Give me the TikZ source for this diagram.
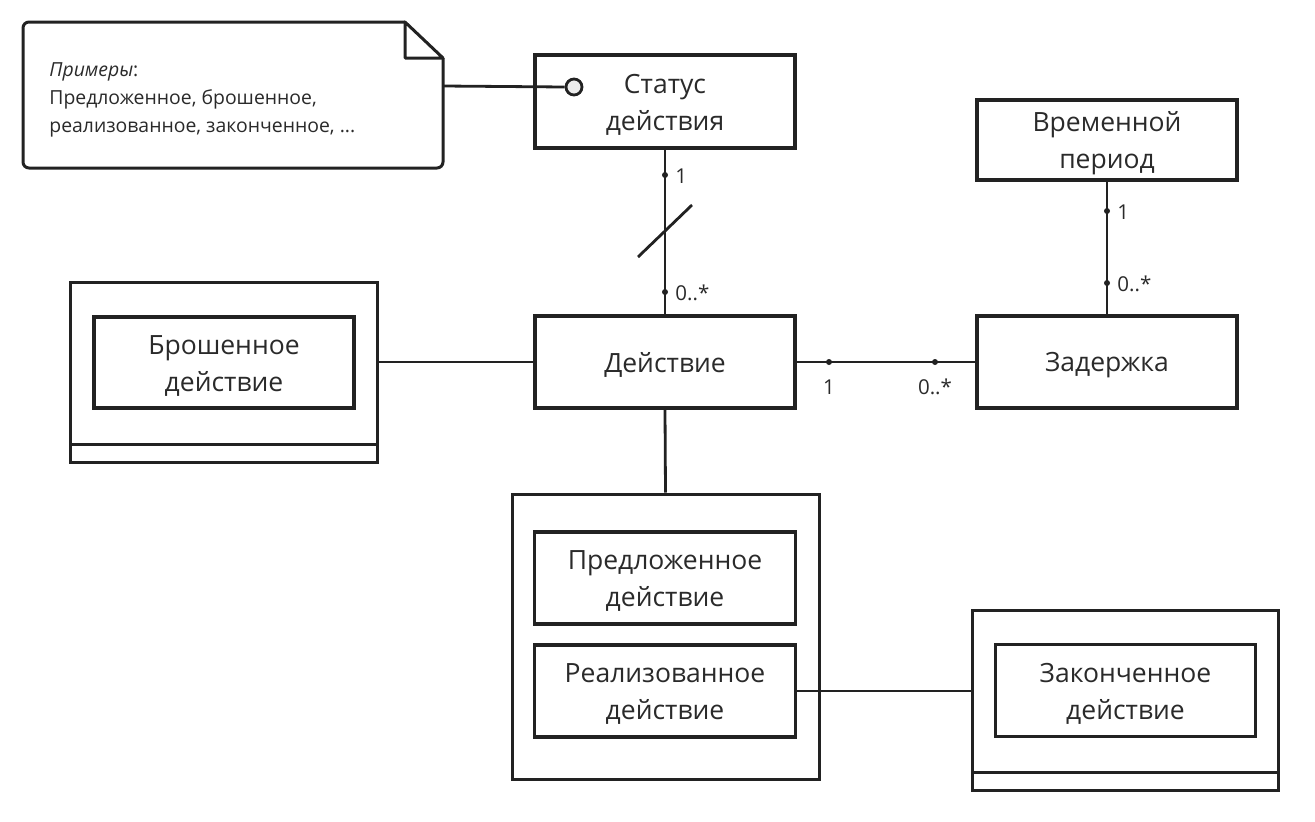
\documentclass[tikz,border=0pt]{standalone}
\usepackage{fontspec}
\setmainfont{Open Sans}
\definecolor{ink}{HTML}{222222}
\definecolor{txt}{HTML}{2A2A2A}
\usetikzlibrary{calc}
\begin{document}
\begin{tikzpicture}[x=1pt,y=-1pt,
  line width=2.8pt, draw=ink,
  box/.style={draw=ink, line width=3.2pt, inner sep=0pt},
  boxtext/.style={text=txt, align=center, font=\fontsize{26.5}{37}\selectfont, inner sep=0pt},
  frame/.style={draw=ink, line width=3pt},
  conn/.style={draw=ink, line width=2.8pt},
  mult/.style={text=txt, font=\fontsize{20.5}{22}\selectfont, inner sep=0pt},
  dot/.style={circle, fill=ink, inner sep=0pt, minimum size=6pt}
]
\useasboundingbox (0,0) rectangle (1315,822);
% note
\draw[frame, rounded corners=6pt] (405,22) -- (23,22) -- (23,168) -- (443,168) -- (443,58);
\draw[frame, line join=round] (405,22) -- (443,58) -- (405,58) -- cycle;
\node[anchor=north west, align=left, text=txt, font=\fontsize{19.4}{28}\selectfont, inner sep=0pt] (note) at (48,61)
  {\textit{Примеры}:\\Предложенное, брошенное,\\реализованное, законченное, ...};
\coordinate (noteR) at (443,86);

% boxes
\node[box, minimum width=260pt, minimum height=93pt] (status) at (665,101.5) {};
\node[boxtext] (statusT) at ([yshift=-3pt]status.center) {Статус\\действия};
\node[box, minimum width=260pt, minimum height=92pt] (action) at (665,362) {};
\node[boxtext] (actionT) at ([yshift=-3pt]action.center) {Действие};
\node[box, minimum width=260pt, minimum height=80pt] (period) at (1107,140) {};
\node[boxtext] (periodT) at ([yshift=-3pt]period.center) {Временной\\период};
\node[box, minimum width=260pt, minimum height=92pt] (delay) at (1107,362) {};
\node[boxtext] (delayT) at ([yshift=-3pt]delay.center) {Задержка};

% abandoned
\node[frame, minimum width=307pt, minimum height=180pt, inner sep=0pt] (abOuter) at (224,372.5) {};
\draw[frame] (71,444) -- (377,444);
\node[box, minimum width=260pt, minimum height=91pt] (abandoned) at (224,362.5) {};
\node[boxtext] (abandonedT) at ([yshift=-3pt]abandoned.center) {Брошенное\\действие};

% lower group
\node[frame, minimum width=307pt, minimum height=285pt, inner sep=0pt] (group) at (665.5,636.5) {};
\node[box, minimum width=261pt, minimum height=92pt] (proposed) at (665,578) {};
\node[boxtext] (proposedT) at ([yshift=-3pt]proposed.center) {Предложенное\\действие};
\node[box, minimum width=261pt, minimum height=92pt] (realized) at (665,691) {};
\node[boxtext] (realizedT) at ([yshift=-3pt]realized.center) {Реализованное\\действие};

% finished
\node[frame, minimum width=306pt, minimum height=180pt, inner sep=0pt] (finOuter) at (1125,700) {};
\draw[frame] (972,772) -- (1278,772);
\node[box, minimum width=260pt, minimum height=92pt] (finished) at (1125.5,690.5) {};
\node[boxtext] (finishedT) at ([yshift=-3pt]finished.center) {Законченное\\действие};

% lollipop
\node[circle, draw=ink, fill=black!7, line width=2.8pt, minimum size=16pt, inner sep=0pt] (lolly) at (574,87) {};
\draw[conn] (noteR) -- (lolly.west);

% status - action
\draw[conn] (status.south) -- (action.north);
\node[dot] (d1) at (665,175) {};
\node[mult, anchor=west] (m1) at (674,176) {1};
\node[dot] (d2) at (665,292) {};
\node[mult, anchor=west] (m2) at (674,293) {0..*};
\coordinate (s1) at (638,257);
\coordinate (s2) at (692,205);
\draw[conn] (s1) -- (s2);

% period - delay
\draw[conn] (period.south) -- (delay.north);
\node[dot] (d3) at (1107,211) {};
\node[mult, anchor=west] (m3) at (1116,212) {1};
\node[dot] (d4) at (1107,283) {};
\node[mult, anchor=west] (m4) at (1116,284) {0..*};

% action - delay
\draw[conn] (action.east) -- (delay.west);
\node[dot] (d5) at (829,362) {};
\node[mult] (m5) at (829,387) {1};
\node[dot] (d6) at (935,362) {};
\node[mult] (m6) at (935,387) {0..*};

% abandoned - action
\draw[conn] (abOuter.east |- action.west) -- (action.west);
% action - group
\draw[conn] (action.south) -- (group.north);
% realized - finished
\draw[conn] (realized.east) -- (finOuter.west |- realized.east);
\end{tikzpicture}
\end{document}
